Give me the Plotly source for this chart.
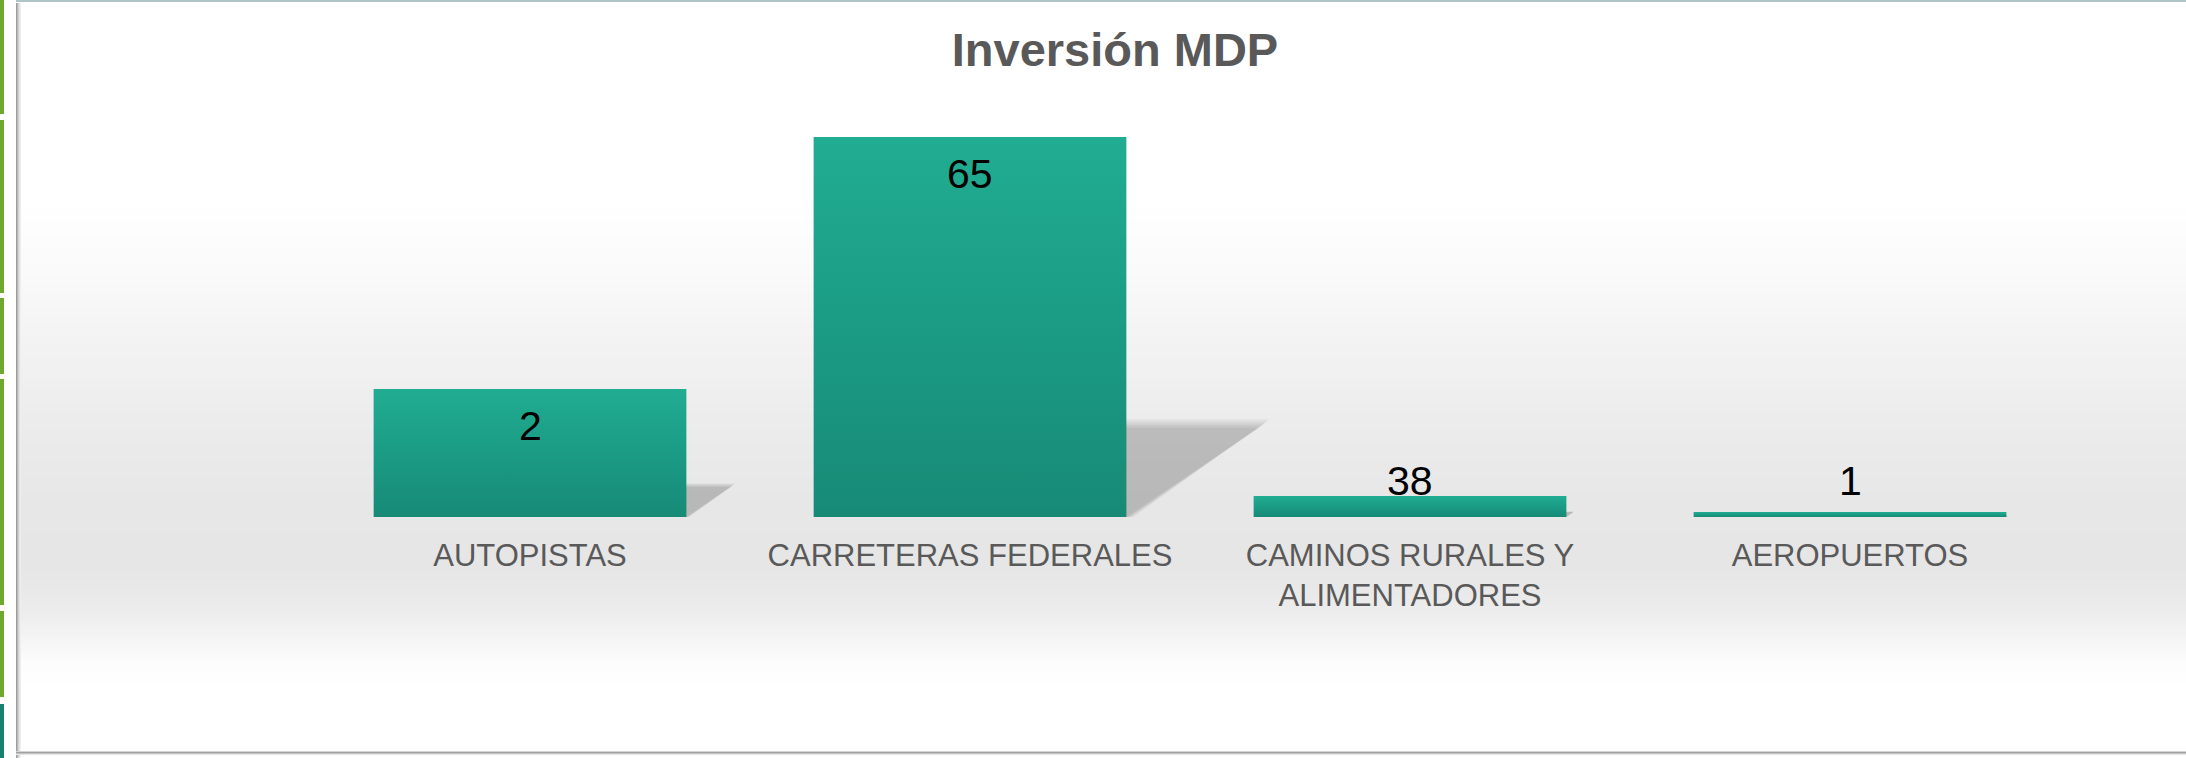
import numpy as np
import plotly.graph_objects as go

# ---------------- data ----------------
categories = ["AUTOPISTAS", "CARRETERAS FEDERALES", "CAMINOS RURALES Y<br>ALIMENTADORES", "AEROPUERTOS"]
bar_heights = [33.7, 100.0, 5.5, 1.3]          # relative bar heights (tallest = 100)
data_labels = ["2", "65", "38", "1"]            # labels printed on the bars
label_inside = [True, True, False, False]
title_text = "Inversión MDP"

# ---------------- geometry / style ----------------
W, H = 2186, 758
X0, X1 = 310, 2070          # plot area in px
Y_BASE, Y_TOP = 517, 137
YMAX = 100.0
BAR_W = 0.71
PX_PER_CAT = (X1 - X0) / 4.0
PX_PER_UNIT = (Y_BASE - Y_TOP) / YMAX
FONT = "Liberation Sans, Arial, sans-serif"
GRAY_TXT = "#595959"

idx = list(range(len(categories)))
fig = go.Figure()

# --- perspective shadows (drawn first, below bars) ---
for i, h in zip(idx, bar_heights):
    h_px = h * PX_PER_UNIT
    sh = 0.234 * h_px
    dx = 0.350 * h_px
    s = min(1.0, h_px / 300.0)
    xl = -BAR_W / 2 * PX_PER_CAT
    xr = BAR_W / 2 * PX_PER_CAT
    for e0 in [0, 3, 6, 9, 12, 15]:
        e = e0 * s
        pts_px = [(xl, 0), (xr + e * 0.5, 0), (xr + dx + e * 0.7, sh + e * 0.6),
                  (xl + dx, sh + e * 0.6), (xl, 0)]
        xs = [i + p[0] / PX_PER_CAT for p in pts_px]
        ys = [max(p[1], 0) / PX_PER_UNIT for p in pts_px]
        fig.add_trace(go.Scatter(x=xs, y=ys, fill="toself", mode="none",
                                 fillcolor="rgba(0,0,0,0.036)", hoverinfo="skip",
                                 showlegend=False))

# --- bars ---
fig.add_trace(go.Bar(x=idx, y=bar_heights, width=BAR_W, marker_color="#1C9B84",
                     marker_line_width=0, showlegend=False, hoverinfo="x+y"))

# --- gradient overlay on each bar ---
for i, h in zip(idx, bar_heights):
    xs = [i - BAR_W / 2, i + BAR_W / 2, i + BAR_W / 2, i - BAR_W / 2, i - BAR_W / 2]
    ys = [0, 0, h, h, 0]
    fig.add_trace(go.Scatter(x=xs, y=ys, fill="toself", mode="none",
                             fillgradient=dict(type="vertical",
                                               colorscale=[[0, "#178A76"], [0.6, "#1C9F87"], [1, "#21AD92"]]),
                             hoverinfo="skip", showlegend=False))

# --- data labels ---
outside_level = max([h for h, ins in zip(bar_heights, label_inside) if not ins] or [0])
annotations = []
for i, h, lab, ins in zip(idx, bar_heights, data_labels, label_inside):
    if ins:
        annotations.append(dict(x=i, y=h, xref="x", yref="y", text=lab, showarrow=False,
                                yanchor="top", yshift=-12,
                                font=dict(family=FONT, size=41, color="#000000")))
    else:
        annotations.append(dict(x=i, y=outside_level, xref="x", yref="y", text=lab, showarrow=False,
                                yanchor="bottom", yshift=-10,
                                font=dict(family=FONT, size=41, color="#000000")))

# --- background gradient & frame (decoration) ---
shapes = []
stops_y = [0, 200, 270, 340, 420, 500, 570, 610, 640, 665, 690, 758]
stops_v = [255, 255, 250, 243, 236, 231, 230, 236, 245, 253, 255, 255]
band = 3
for y in range(0, H, band):
    v = int(round(np.interp(y + band / 2, stops_y, stops_v)))
    shapes.append(dict(type="rect", xref="paper", yref="paper", layer="below",
                       x0=17 / W, x1=1, y0=1 - (y + band) / H, y1=1 - y / H,
                       line_width=0, fillcolor=f"rgb({v},{v},{v})"))
# left frame shadow
for k, c in enumerate(["#9c9c9c", "#b9b9b9", "#d2d2d2", "#e4e4e4", "#eeeeee"]):
    shapes.append(dict(type="rect", xref="paper", yref="paper", layer="below",
                       x0=(16 + k) / W, x1=(17 + k) / W, y0=0, y1=1 - 3 / H,
                       line_width=0, fillcolor=c))
# bottom frame
for k, c in enumerate(["#d4d4d4", "#a0a0a0", "#c4c4c4", "#e6e6e6"]):
    y = 751 + k
    shapes.append(dict(type="rect", xref="paper", yref="paper", layer="below",
                       x0=16 / W, x1=1, y0=1 - (y + 1) / H, y1=1 - y / H,
                       line_width=0, fillcolor=c))
# top frame line
shapes.append(dict(type="rect", xref="paper", yref="paper", layer="below",
                   x0=16 / W, x1=1, y0=1 - 2 / H, y1=1, line_width=0, fillcolor="#AFC3CA"))
# green side marks (slide decoration)
segs = [(0, 114, "#6FA82F"), (120, 293, "#6FA82F"), (298, 374, "#6FA82F"),
        (379, 605, "#6FA82F"), (611, 697, "#6FA82F"), (704, 758, "#17806F")]
for a, b, c in segs:
    shapes.append(dict(type="rect", xref="paper", yref="paper", layer="below",
                       x0=0, x1=4 / W, y0=1 - b / H, y1=1 - a / H, line_width=0, fillcolor=c))

fig.update_layout(
    width=W, height=H,
    margin=dict(l=0, r=0, t=0, b=0),
    paper_bgcolor="#FFFFFF", plot_bgcolor="rgba(0,0,0,0)",
    title=dict(text=title_text, x=1115 / W, xanchor="center", y=1 - 50 / H, yanchor="middle",
               font=dict(family=FONT, size=47, color=GRAY_TXT, weight="bold")),
    xaxis=dict(domain=[X0 / W, X1 / W], range=[-0.5, 3.5], tickvals=idx, ticktext=categories,
               showgrid=False, zeroline=False, showline=False, ticks="", ticklabelstandoff=17,
               tickfont=dict(family=FONT, size=31, color=GRAY_TXT), fixedrange=True),
    yaxis=dict(domain=[1 - Y_BASE / H, 1 - Y_TOP / H], range=[0, YMAX], visible=False,
               fixedrange=True),
    shapes=shapes,
    annotations=annotations,
    bargap=0.29,
    showlegend=False,
)

fig.write_html("out.html")
